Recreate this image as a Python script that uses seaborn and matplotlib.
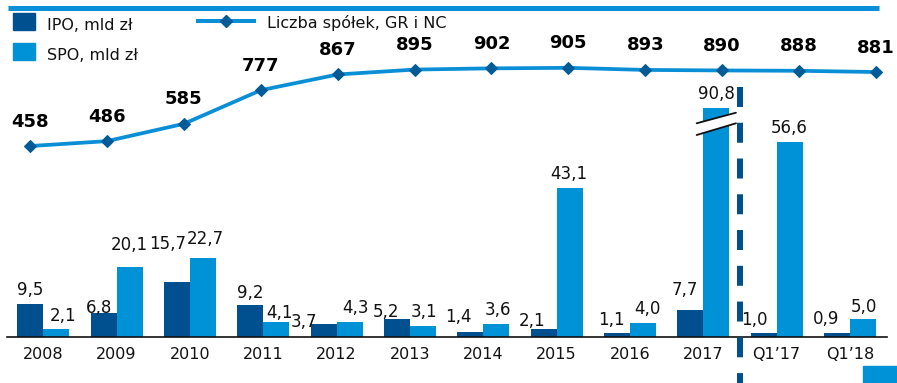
import numpy as np
import pandas as pd
import matplotlib
matplotlib.use("Agg")
import matplotlib.pyplot as plt
from matplotlib.lines import Line2D
from matplotlib.patches import Rectangle, Polygon
from matplotlib.transforms import IdentityTransform
import seaborn as sns

# ---- data -------------------------------------------------------------
categories = ["2008", "2009", "2010", "2011", "2012", "2013", "2014",
              "2015", "2016", "2017", "Q1\u201917", "Q1\u201918"]
ipo = [9.5, 6.8, 15.7, 9.2, 3.7, 5.2, 1.4, 2.1, 1.1, 7.7, 1.0, 0.9]
spo = [2.1, 20.1, 22.7, 4.1, 4.3, 3.1, 3.6, 43.1, 4.0, 90.8, 56.6, 5.0]
companies = [458, 486, 585, 777, 867, 895, 902, 905, 893, 890, 888, 881]

ipo_name = "IPO, mld zł"
spo_name = "SPO, mld zł"
line_name = "Liczba spółek, GR i NC"

# placement of the value labels: horizontal nudge and gap above the bar (pixels)
ipo_dx = [0, -5, -9, 0, -20, -11, -12, -12, -5, -5, -9, -11]
ipo_gap = [9, 0, 33, 7, -3, 1.5, 9.5, 3, 7.7, 15, 8.3, 9]
spo_dx = [7, 0, 2, 3, 6, 1, 2, -1, 5, 0, 0, 1]
spo_gap = [8.3, 17, 14, 4.4, 8.7, 8.7, 8.7, 9, 8.3, 9, 9, 7.6]

# ---- style ------------------------------------------------------------
IPO_C = "#004F8F"
SPO_C = "#0092D6"
LINE_C = "#0A8FD6"
MARK_C = "#005B96"
TXT_C = "#111111"

W, H, DPI = 897, 383, 100
sns.set_theme(style="white")
plt.rcParams["font.family"] = ["DejaVu Sans"]

fig = plt.figure(figsize=(W / DPI, H / DPI), dpi=DPI)


def px(x):
    return x * 72 / DPI


# ---- bars ---------------------------------------------------------------
BASE = 336.5      # baseline, pixels from top
TOP = 108.3       # top of the bar area (tall bar is cut here)
SCALE = 3.44      # pixels per bln PLN
ax = fig.add_axes([6.6 / W, (H - BASE) / H, 880 / W, (BASE - TOP) / H])

df = pd.DataFrame({
    "okres": categories * 2,
    "wartosc": ipo + spo,
    "seria": [ipo_name] * len(ipo) + [spo_name] * len(spo),
})
sns.barplot(data=df, x="okres", y="wartosc", hue="seria", order=categories,
            hue_order=[ipo_name, spo_name], palette=[IPO_C, SPO_C],
            width=0.709, saturation=1, linewidth=0, legend=False, ax=ax)
ax.set_xlim(-0.5, len(categories) - 0.5)
ax.set_ylim(0, (BASE - TOP) / SCALE)
ax.set_xlabel("")
ax.set_ylabel("")
ax.set_yticks([])
for s in ["left", "right", "top"]:
    ax.spines[s].set_visible(False)
ax.spines["bottom"].set_color("#111111")
ax.spines["bottom"].set_linewidth(1.2)
ax.tick_params(axis="x", length=0, pad=7.5, labelsize=11.5, colors=TXT_C)
ax.patch.set_alpha(0)

ymax = ax.get_ylim()[1]


def fmt(v):
    return f"{v:.1f}".replace(".", ",")


for cont, vals, dxs, gaps in [(ax.containers[0], ipo, ipo_dx, ipo_gap),
                              (ax.containers[1], spo, spo_dx, spo_gap)]:
    for bar, v, dx, g in zip(cont, vals, dxs, gaps):
        xc = bar.get_x() + bar.get_width() / 2
        ax.annotate(fmt(v), (xc, min(v, ymax)), xytext=(px(dx), px(g)),
                    textcoords="offset points", ha="center", va="baseline",
                    fontsize=12, color=TXT_C, annotation_clip=False, zorder=7)

# break marks on the cut bar
cut = ax.containers[1][int(np.argmax(spo))]
bx, _ = ax.transData.transform((cut.get_x() + cut.get_width() / 2, 0))
top_d = ax.transAxes.transform((0, 1))[1]
l1 = [(bx - 19.6, top_d - 15.0), (bx + 19.7, top_d - 4.4)]
l2 = [(bx - 19.6, top_d - 26.7), (bx + 19.7, top_d - 15.0)]
fig.patches.append(Polygon([l1[0], l1[1], l2[1], l2[0]], closed=True,
                           facecolor="white", edgecolor="none",
                           transform=IdentityTransform(), zorder=5))
for seg in (l1, l2):
    fig.lines.append(Line2D([seg[0][0], seg[1][0]], [seg[0][1], seg[1][1]],
                            color="#111111", lw=1.3, transform=IdentityTransform(),
                            zorder=6))

# dashed separator between yearly and quarterly data
y_top = (BASE - 86.7) / (BASE - TOP)
y_bot = (BASE - H) / (BASE - TOP)
ax.plot([9.5, 9.5], [y_top, y_bot], transform=ax.get_xaxis_transform(),
        color=IPO_C, lw=px(6), linestyle=(0, (3.33, 2.63)),
        dash_capstyle="butt", solid_capstyle="butt", clip_on=False, zorder=4)

# ---- line: number of companies ---------------------------------------
lax = fig.add_axes([30 / W, (H - 226.2) / H, 846 / W, 175 / H])
idx = np.arange(len(companies))
sns.lineplot(x=idx, y=companies, ax=lax, color=LINE_C, lw=2.7, marker="D",
             markersize=6, markerfacecolor=MARK_C, markeredgecolor=MARK_C,
             clip_on=False)
lax.set_xlim(0, len(companies) - 1)
lax.set_ylim(0, 1000)
lax.axis("off")
lax.patch.set_alpha(0)
for i, n in zip(idx, companies):
    lax.annotate(str(n), (i, n), xytext=(0, px(19.5)), textcoords="offset points",
                 ha="center", va="baseline", fontsize=13, fontweight="bold",
                 color="#000000", annotation_clip=False)

# ---- legend ------------------------------------------------------------
def fy(y):
    return (H - y) / H


fig.patches.append(Rectangle((13.3 / W, fy(30)), 21.7 / W, 17.3 / H,
                             transform=fig.transFigure, color=IPO_C))
fig.patches.append(Rectangle((13.3 / W, fy(60)), 21.7 / W, 17.3 / H,
                             transform=fig.transFigure, color=SPO_C))
fig.text(46.7 / W, fy(30), ipo_name, fontsize=11.5, color=TXT_C, va="baseline")
fig.text(46.7 / W, fy(59.5), spo_name, fontsize=11.5, color=TXT_C, va="baseline")
fig.lines.append(Line2D([196 / W, 256 / W], [fy(21)] * 2, transform=fig.transFigure,
                        color=LINE_C, lw=2.9, solid_capstyle="butt"))
fig.lines.append(Line2D([226 / W], [fy(21)], transform=fig.transFigure,
                        marker="D", markersize=6, color=MARK_C, lw=0))
fig.text(266.7 / W, fy(28.3), line_name, fontsize=11.5, color=TXT_C, va="baseline")

# ---- decorative rules ---------------------------------------------------
fig.lines.append(Line2D([8 / W, 879 / W], [fy(8)] * 2, transform=fig.transFigure,
                        color="#0A8FD8", lw=3.6, solid_capstyle="butt"))
fig.patches.append(Rectangle((863 / W, 0), 34 / W, 17 / H,
                             transform=fig.transFigure, color=SPO_C))

fig.savefig("out.png", dpi=DPI)
